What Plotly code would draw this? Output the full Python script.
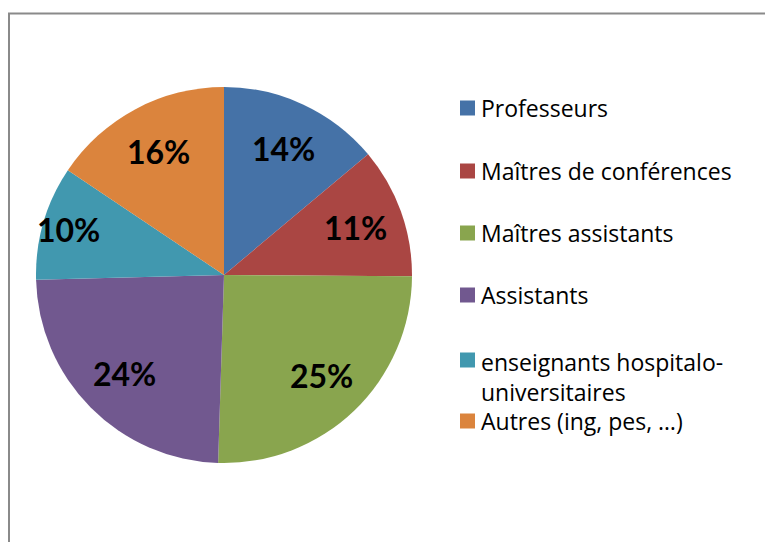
import math
import plotly.graph_objects as go

categories = ["Professeurs", "Maîtres de conférences", "Maîtres assistants",
              "Assistants", "enseignants hospitalo-universitaires", "Autres (ing, pes, …)"]
legend_labels = ["Professeurs", "Maîtres de conférences", "Maîtres assistants",
                 "Assistants", "enseignants hospitalo-<br>universitaires", "Autres (ing, pes, …)"]
values = [13.9, 11.2, 25.4, 24.1, 9.8, 15.6]
colors = ["#4572A7", "#AA4643", "#89A54E", "#71588F", "#4198AF", "#DB843D"]

# layout parameters (pixels on the page)
W, H = 773, 542
OFF = 8  # page body margin
CX, CY, R = 224, 275, 188
label_r = [0.745, 0.745, 0.745, 0.745, 0.86, 0.745]
FONT = "Lato, Carlito, Calibri, sans-serif"
LFONT = "Open Sans, sans-serif"


def px(x):
    return (x - OFF) / W


def py(y):
    return 1 - (y - OFF) / H


fig = go.Figure()
fig.add_trace(go.Pie(
    labels=categories, values=values, sort=False, direction="clockwise", rotation=0,
    marker=dict(colors=colors, line=dict(width=0)),
    textinfo="none",
    domain=dict(x=[px(CX - R), px(CX + R)], y=[py(CY + R), py(CY - R)]),
    showlegend=False, hoverinfo="label+percent",
))

annotations = []
total = sum(values)
cum = 0
for v, rf in zip(values, label_r):
    mid = (cum + v / 2) / total * 2 * math.pi
    cum += v
    x = CX + rf * R * math.sin(mid)
    y = CY - rf * R * math.cos(mid)
    annotations.append(dict(xref="paper", yref="paper", x=px(x), y=py(y), xanchor="center", yanchor="middle",
                            text=f"{round(100 * v / total)}%", showarrow=False,
                            font=dict(family=FONT, size=32, color="black", weight="bold")))

item_y = [108, 171, 233, 295, 360, 421]
shapes = [dict(type="rect", xref="paper", yref="paper", x0=px(9), x1=1.02, y0=-0.02, y1=py(13.5),
               line=dict(color="#8a8a8a", width=2), fillcolor="rgba(0,0,0,0)")]
for lab, col, yc in zip(legend_labels, colors, item_y):
    shapes.append(dict(type="rect", xref="paper", yref="paper",
                       x0=px(460), x1=px(475), y0=py(yc + 7.5), y1=py(yc - 7.5),
                       fillcolor=col, line=dict(width=0)))
    if "<br>" in lab:
        annotations.append(dict(xref="paper", yref="paper", x=px(479), y=py(yc - 16),
                                xanchor="left", yanchor="top", align="left", text=lab, showarrow=False,
                                font=dict(family=LFONT, size=23, color="black")))
    else:
        annotations.append(dict(xref="paper", yref="paper", x=px(479), y=py(yc),
                                xanchor="left", yanchor="middle", text=lab, showarrow=False,
                                font=dict(family=LFONT, size=23, color="black")))

fig.update_layout(width=W, height=H, margin=dict(l=0, r=0, t=0, b=0),
                  paper_bgcolor="white", plot_bgcolor="white",
                  shapes=shapes, annotations=annotations)
fig.write_html("out.html")
